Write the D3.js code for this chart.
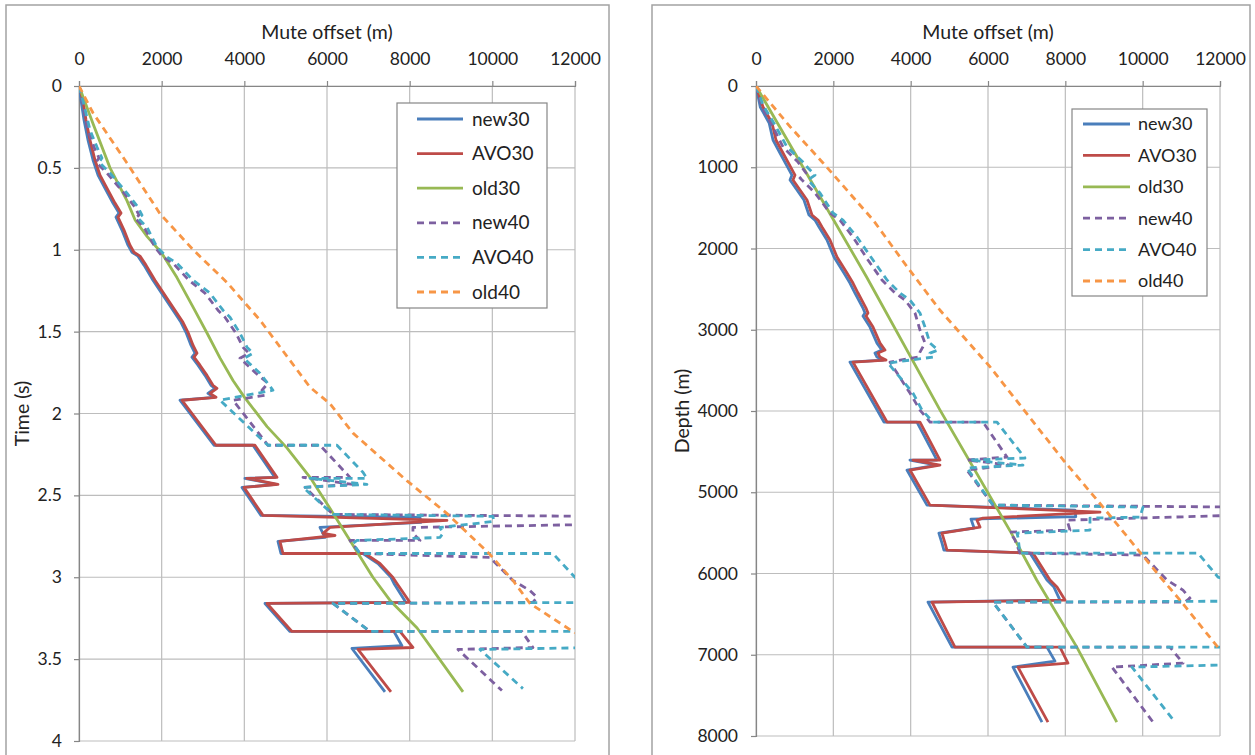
<!DOCTYPE html>
<html>
<head>
<meta charset="utf-8">
<script src="https://cdn.jsdelivr.net/npm/d3@7"></script>
<style>
  body { margin: 0; background: #fff; }
  svg { font-family: Lato, 'Open Sans', sans-serif; }
</style>
</head>
<body>
<svg width="1255" height="755"></svg>
<script>
// ---- data: [mute offset (m), time (s)] ----
const timeNew30 = [[0,0],[48,0.086],[121,0.208],[218,0.33],[339,0.452],[460,0.544],[653,0.636],[822,0.715],[968,0.776],[895,0.801],[1040,0.88],[1185,0.972],[1282,1.015],[1427,1.039],[1572,1.094],[1790,1.186],[2032,1.278],[2274,1.369],[2467,1.443],[2588,1.504],[2709,1.583],[2806,1.632],[2733,1.656],[2879,1.705],[3048,1.767],[3193,1.828],[3290,1.846],[3120,1.877],[3266,1.901],[2443,1.919],[3266,2.194],[4209,2.194],[4741,2.39],[4015,2.396],[4765,2.433],[3943,2.451],[4403,2.622],[8249,2.634],[8273,2.665],[5830,2.696],[5951,2.757],[4814,2.781],[4886,2.855],[6870,2.855],[7233,2.916],[7547,3.001],[7620,3.038],[7910,3.154],[4500,3.16],[5104,3.331],[7620,3.331],[7813,3.418],[6604,3.435],[7402,3.7]]
const timeAvo30 = [[0,0],[97,0.086],[169,0.208],[266,0.33],[387,0.452],[508,0.544],[702,0.636],[871,0.715],[1016,0.776],[943,0.801],[1089,0.88],[1234,0.972],[1330,1.015],[1476,1.039],[1621,1.094],[1838,1.186],[2080,1.278],[2322,1.369],[2516,1.443],[2637,1.504],[2758,1.583],[2854,1.632],[2782,1.656],[2927,1.705],[3096,1.767],[3241,1.828],[3338,1.846],[3169,1.877],[3314,1.901],[2492,1.919],[3314,2.194],[4257,2.194],[4790,2.39],[4064,2.396],[4814,2.433],[3991,2.451],[4451,2.622],[8902,2.653],[6072,2.696],[5902,2.732],[6193,2.745],[4862,2.781],[4935,2.855],[6918,2.855],[7281,2.916],[7596,3.001],[7692,3.038],[8007,3.154],[4548,3.16],[5152,3.331],[7765,3.331],[8079,3.429],[6749,3.441],[7547,3.7]]
const timeOld30 = [[0,0],[340,0.23],[750,0.5],[1160,0.7],[1360,0.82],[1650,0.92],[2000,1.02],[2370,1.17],[2760,1.35],[3100,1.51],[3410,1.66],[3730,1.8],[4000,1.9],[4550,2.08],[5030,2.21],[5590,2.39],[6150,2.61],[7110,3.0],[7520,3.14],[8180,3.31],[9290,3.7]]
const timeNew40 = [[0,0],[97,0.116],[218,0.269],[363,0.373],[484,0.44],[411,0.465],[677,0.532],[1089,0.654],[1355,0.74],[1451,0.789],[1355,0.807],[1572,0.862],[1838,0.984],[2032,1.045],[2274,1.082],[2661,1.186],[3048,1.265],[3362,1.369],[3532,1.412],[3798,1.51],[3967,1.595],[4112,1.632],[3895,1.663],[4282,1.754],[4572,1.815],[4427,1.858],[4500,1.889],[3725,1.919],[4572,2.194],[5830,2.194],[6555,2.39],[5419,2.39],[6628,2.433],[5467,2.451],[6144,2.616],[12600,2.628],[12600,2.677],[8079,2.696],[8079,2.732],[8249,2.775],[6555,2.775],[6797,2.855],[9942,2.879],[10498,3.02],[10910,3.081],[11079,3.123],[10982,3.154],[6144,3.16],[7039,3.331],[10716,3.331],[10982,3.429],[9168,3.441],[10232,3.692]]
const timeAvo40 = [[0,0],[121,0.116],[266,0.269],[435,0.373],[556,0.44],[484,0.465],[750,0.532],[1161,0.654],[1427,0.74],[1524,0.789],[1427,0.807],[1645,0.862],[1887,0.984],[2129,1.045],[2371,1.082],[2758,1.186],[3169,1.265],[3483,1.369],[3653,1.412],[3895,1.51],[4064,1.595],[4209,1.632],[3991,1.663],[4378,1.754],[4693,1.858],[3411,1.919],[4572,2.194],[6241,2.194],[6870,2.359],[6967,2.396],[5588,2.396],[6967,2.433],[5419,2.451],[6144,2.616],[10015,2.628],[10039,2.659],[8733,2.696],[8805,2.732],[8733,2.757],[6725,2.775],[6628,2.793],[6797,2.855],[11466,2.855],[12000,3.001],[12600,3.08],[12600,3.154],[6144,3.16],[7039,3.331],[12600,3.331],[12600,3.429],[9700,3.441],[10740,3.68]]
const timeOld40 = [[0,0],[340,0.165],[1160,0.47],[1960,0.78],[2760,1.0],[3580,1.2],[4380,1.43],[5590,1.84],[6070,1.94],[6630,2.12],[7930,2.41],[8900,2.61],[9940,2.86],[10500,3.02],[10910,3.16],[12000,3.34]]

// ---- data: [mute offset (m), depth (m)] ----
const depthNew30 = [[0,0],[110,259],[340,455],[440,665],[620,825],[930,1096],[880,1157],[1240,1403],[1370,1588],[1525,1650],[1630,1736],[1836,1896],[2017,2105],[2275,2302],[2430,2425],[2560,2548],[2767,2733],[2818,2794],[2767,2831],[2948,2967],[3129,3164],[3258,3250],[3077,3287],[3129,3336],[3284,3373],[2430,3398],[3310,4136],[4163,4136],[4680,4604],[3982,4604],[4680,4665],[3904,4727],[4422,5158],[8250,5220],[8270,5300],[5560,5330],[5640,5440],[4730,5503],[4810,5626],[4860,5712],[7085,5749],[7525,6081],[7706,6167],[7861,6327],[4448,6352],[5069,6906],[7525,6906],[7732,7078],[6646,7152],[7396,7829]]
const depthAvo30 = [[0,0],[181,259],[414,455],[517,665],[698,825],[1009,1096],[957,1157],[1319,1403],[1448,1588],[1603,1650],[1707,1736],[1914,1896],[2095,2105],[2353,2302],[2508,2425],[2638,2548],[2845,2733],[2896,2794],[2845,2831],[3026,2967],[3207,3164],[3336,3250],[3155,3287],[3207,3336],[3362,3373],[2508,3398],[3388,4136],[4241,4136],[4758,4604],[4060,4604],[4758,4665],[3982,4727],[4500,5158],[8896,5244],[5870,5318],[5715,5343],[5793,5429],[4810,5503],[4888,5626],[4939,5712],[7163,5749],[7603,6081],[7784,6167],[7991,6327],[4551,6352],[5146,6906],[7861,6906],[8068,7103],[6775,7152],[7551,7829]]
const depthOld30 = [[0,0],[2860,2350],[4760,3990],[6600,5500],[7260,6080],[8290,6900],[9330,7830]]
const depthNew40 = [[0,0],[155,259],[414,480],[698,751],[1086,936],[1293,1071],[1138,1133],[1526,1317],[1914,1563],[2172,1650],[2508,1859],[2896,2142],[3258,2388],[3595,2548],[3853,2634],[4112,2794],[4241,3004],[4370,3164],[4241,3275],[4189,3336],[3465,3398],[3982,3779],[4241,3988],[4500,4136],[5870,4136],[6491,4567],[5456,4604],[6568,4665],[5456,4727],[6129,5158],[12600,5183],[12600,5281],[8043,5343],[8120,5466],[6568,5490],[6698,5589],[6827,5749],[10008,5773],[10629,6081],[11042,6204],[11223,6303],[11094,6352],[6129,6352],[7008,6906],[10706,6906],[11042,7103],[9206,7152],[10267,7829]]
const depthAvo40 = [[0,0],[181,234],[491,480],[802,751],[1215,936],[1345,1009],[1526,1096],[1345,1157],[1655,1317],[1991,1563],[2250,1650],[2612,1859],[3026,2142],[3388,2388],[3724,2548],[3982,2634],[4241,2794],[4370,2967],[4500,3164],[4707,3250],[4500,3287],[4577,3336],[3414,3410],[4060,3779],[4293,3988],[4577,4136],[6232,4136],[6956,4579],[5534,4604],[6905,4665],[5456,4702],[6129,5158],[10008,5183],[9930,5306],[8637,5318],[8637,5466],[6750,5503],[6775,5552],[6827,5749],[11430,5749],[11948,6044],[12600,6150],[12600,6340],[6129,6352],[7008,6906],[12600,6906],[12600,7120],[9723,7152],[10835,7829]]
const depthOld40 = [[0,0],[880,500],[1740,950],[3030,1650],[3900,2220],[4760,2760],[6050,3455],[7940,4600],[8970,5180],[10450,6040],[10970,6330],[12000,6940]]

const seriesNames = ['new30', 'AVO30', 'old30', 'new40', 'AVO40', 'old40']
const seriesColors = ['#4a7ebb', '#be4b48', '#98b954', '#7d60a0', '#46aac5', '#f79646']
const seriesDashed = [false, false, false, true, true, true]

const offsetTicks = [0, 2000, 4000, 6000, 8000, 10000, 12000]
const timeTicks = [0, 0.5, 1, 1.5, 2, 2.5, 3, 3.5, 4]
const depthTicks = [0, 1000, 2000, 3000, 4000, 5000, 6000, 7000, 8000]

let svg = d3.select('svg')

// panel frames
svg.append('rect').attr('x', 6).attr('y', 5).attr('width', 603).attr('height', 770)
  .attr('fill', '#fff').attr('stroke', '#a3a3a3').attr('stroke-width', 1.5)
svg.append('rect').attr('x', 652).attr('y', 5).attr('width', 598).attr('height', 770)
  .attr('fill', '#fff').attr('stroke', '#a3a3a3').attr('stroke-width', 1.5)

const drawChart = cfg => {
  const g = svg.append('g')
  const x = d3.scaleLinear().domain([0, 12000]).range(cfg.xRange)
  const y = d3.scaleLinear().domain(cfg.yDomain).range(cfg.yRange)

  // gridlines
  g.append('g').selectAll('line').data(offsetTicks).enter().append('line')
    .attr('x1', d => x(d)).attr('x2', d => x(d))
    .attr('y1', cfg.yRange[0]).attr('y2', cfg.yRange[1])
    .attr('stroke', '#bdbdbd').attr('stroke-width', 1.2)
  g.append('g').selectAll('line').data(cfg.yTicks).enter().append('line')
    .attr('x1', cfg.xRange[0]).attr('x2', cfg.xRange[1])
    .attr('y1', d => y(d)).attr('y2', d => y(d))
    .attr('stroke', '#bdbdbd').attr('stroke-width', 1.2)

  // axes (plain numbers, no thousands separator)
  const xAxis = d3.axisTop(x).tickValues(offsetTicks).tickFormat(d => String(d))
    .tickSizeOuter(0).tickSize(5).tickPadding(16)
  const yAxis = d3.axisLeft(y).tickValues(cfg.yTicks).tickFormat(d => String(d))
    .tickSizeOuter(0).tickSize(5).tickPadding(cfg.yPad)
  const ax = g.append('g').attr('transform', `translate(0,${cfg.yRange[0]})`).call(xAxis)
  const ay = g.append('g').attr('transform', `translate(${cfg.xRange[0]},0)`).call(yAxis)
  ;[ax, ay].forEach(a => {
    a.select('.domain').attr('stroke', '#868686').attr('stroke-width', 1.2)
    a.selectAll('.tick line').attr('stroke', '#868686').attr('stroke-width', 1.2)
    a.selectAll('text').attr('font-size', 17.5).attr('fill', '#222').attr('font-family', 'Lato, sans-serif')
  })

  // titles
  g.append('text').attr('x', (cfg.xRange[0] + cfg.xRange[1]) / 2).attr('y', 39)
    .attr('text-anchor', 'middle').attr('font-size', 19.5).attr('fill', '#222').text('Mute offset (m)')
  g.append('text')
    .attr('transform', `translate(${cfg.yTitleX},${(cfg.yRange[0] + cfg.yRange[1]) / 2}) rotate(-90)`)
    .attr('text-anchor', 'middle').attr('font-size', 19.5).attr('fill', '#222').text(cfg.yTitle)

  // clip + series
  g.append('clipPath').attr('id', cfg.id).append('rect')
    .attr('x', cfg.xRange[0]).attr('y', cfg.yRange[0])
    .attr('width', cfg.xRange[1] - cfg.xRange[0]).attr('height', cfg.yRange[1] - cfg.yRange[0])
  const line = d3.line().x(d => x(d[0])).y(d => y(d[1]))
  g.append('g').attr('clip-path', `url(#${cfg.id})`)
    .selectAll('path').data(cfg.series).enter().append('path')
    .attr('d', line)
    .attr('fill', 'none')
    .attr('stroke', (d, i) => seriesColors[i])
    .attr('stroke-width', 2.8)
    .attr('stroke-linejoin', 'round')
    .attr('stroke-dasharray', (d, i) => seriesDashed[i] ? '7,5' : null)

  // legend
  const lg = g.append('g').attr('transform', `translate(${cfg.legend.x},${cfg.legend.y})`)
  lg.append('rect').attr('width', cfg.legend.w).attr('height', cfg.legend.h)
    .attr('fill', '#fff').attr('stroke', '#868686').attr('stroke-width', 1.2)
  const rows = lg.selectAll('g').data(seriesNames).enter().append('g')
    .attr('transform', (d, i) => `translate(0,${cfg.legend.top + i * cfg.legend.step})`)
  rows.append('line').attr('x1', cfg.legend.l1).attr('x2', cfg.legend.l2)
    .attr('stroke', (d, i) => seriesColors[i]).attr('stroke-width', 2.8)
    .attr('stroke-dasharray', (d, i) => seriesDashed[i] ? '7,5' : null)
  rows.append('text').attr('x', cfg.legend.tx).attr('dy', '0.35em')
    .attr('font-size', cfg.legend.fs).attr('fill', '#222').text(d => d)
}

drawChart({
  id: 'clipTime',
  xRange: [79, 575], yDomain: [0, 4], yRange: [86, 741], yTicks: timeTicks, yPad: 12,
  yTitle: 'Time (s)', yTitleX: 29,
  series: [timeNew30, timeAvo30, timeOld30, timeNew40, timeAvo40, timeOld40],
  legend: { x: 397, y: 103, w: 150, h: 205, top: 16, step: 34.6, l1: 20, l2: 66, tx: 75, fs: 19 }
})

drawChart({
  id: 'clipDepth',
  xRange: [756, 1220], yDomain: [0, 8000], yRange: [86, 736], yTicks: depthTicks, yPad: 13,
  yTitle: 'Depth (m)', yTitleX: 689,
  series: [depthNew30, depthAvo30, depthOld30, depthNew40, depthAvo40, depthOld40],
  legend: { x: 1072, y: 109, w: 135, h: 187, top: 15, step: 31.4, l1: 11, l2: 58, tx: 66, fs: 18 }
})
</script>
</body>
</html>
